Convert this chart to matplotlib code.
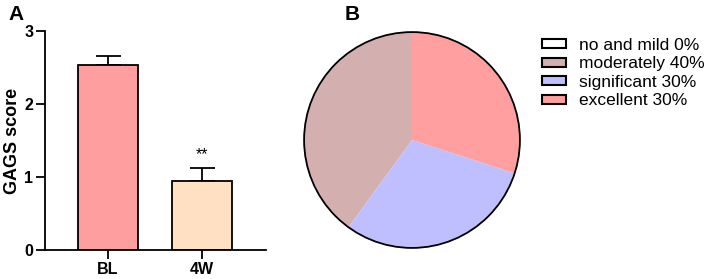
import matplotlib
matplotlib.use("Agg")
import matplotlib.pyplot as plt
from matplotlib.patches import Patch, Circle

plt.rcParams['font.family'] = ['Liberation Sans', 'DejaVu Sans']

groups = ["BL", "4W"]
means = [2.54, 0.94]
errs = [0.12, 0.18]
bar_colors = ["#FF9E9E", "#FFE0C2"]

pie_labels = ["no and mild 0%", "moderately 40%", "significant 30%", "excellent 30%"]
pie_values = [0, 40, 30, 30]
pie_colors = ["#FFFFFF", "#D4AFAF", "#BFBFFF", "#FF9F9F"]

W, H = 709, 279
fig = plt.figure(figsize=(W/100, H/100), dpi=100)

ax = fig.add_axes([45/W, 1-250/H, 221/W, 219/H])
x = [0, 1]
ax.bar(x, means, width=0.64, color=bar_colors, edgecolor="black", linewidth=1.3, zorder=2)
for xi, m, e in zip(x, means, errs):
    ax.errorbar(xi, m, yerr=[[0], [e]], fmt="none", ecolor="black", elinewidth=1.3,
                capsize=9, capthick=1.3, zorder=1)
ax.text(1, means[1] + errs[1] + 0.08, "**", ha="center", va="bottom", fontsize=11.5)
ax.set_xlim(-0.67, 1.68)
ax.set_ylim(0, 3)
ax.set_yticks([0, 1, 2, 3])
ax.set_xticks(x)
ax.set_xticklabels(groups, fontweight="bold", fontsize=11.5)
for lab in ax.get_yticklabels():
    lab.set_fontweight("bold")
    lab.set_fontsize(11.5)
ax.spines["top"].set_visible(False)
ax.spines["right"].set_visible(False)
ax.spines["left"].set_linewidth(1.3)
ax.spines["bottom"].set_linewidth(1.3)
ax.tick_params(direction="out", length=6.5, width=1.3, pad=2)
ax.set_ylabel("GAGS score", fontweight="bold", fontsize=13, labelpad=2)

pax = fig.add_axes([303/W, 1-249/H, 218/W, 218/H])
pax.pie(pie_values, colors=pie_colors, startangle=90, counterclock=True,
        wedgeprops=dict(linewidth=0))
pax.add_patch(Circle((0, 0), 1, fill=False, edgecolor="black", linewidth=1.3))
pax.set_xlim(-1.01, 1.01)
pax.set_ylim(-1.01, 1.01)
pax.set_aspect("equal")
pax.axis("off")

handles = [Patch(facecolor=c, edgecolor="black", linewidth=1.5) for c in pie_colors]
fig.legend(handles, pie_labels, loc="upper left", bbox_to_anchor=(535/W, 1-31/H),
           frameon=False, fontsize=12.5, handlelength=1.4, handleheight=0.45,
           handletextpad=0.75, labelspacing=0.2, borderaxespad=0)

fig.text(8/W, 1-15/H, "A", fontsize=15, fontweight="bold", va="center")
fig.text(345/W, 1-15/H, "B", fontsize=15, fontweight="bold", va="center")

fig.savefig("out.png", dpi=100)
